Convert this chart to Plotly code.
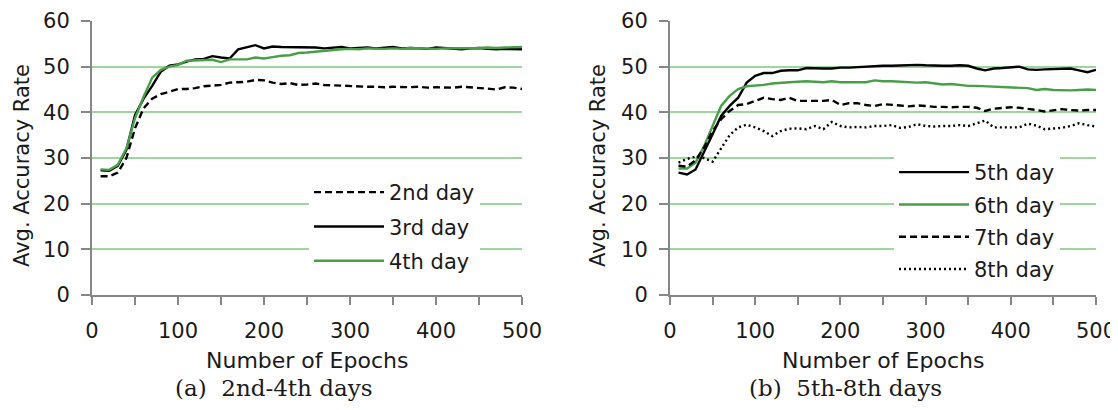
import plotly.graph_objects as go

epochs = [10, 20, 30, 40, 50, 60, 70, 80, 90, 100, 110, 120, 130, 140, 150, 160, 170, 180, 190, 200,
          210, 220, 230, 240, 250, 260, 270, 280, 290, 300, 310, 320, 330, 340, 350, 360, 370, 380, 390, 400,
          410, 420, 430, 440, 450, 460, 470, 480, 490, 500]

day2 = [26.0, 26.0, 26.8, 30.0, 36.5, 40.9, 43.0, 44.0, 44.5, 45.1, 45.1, 45.3, 45.7, 45.9, 46.0, 46.5, 46.6,
        46.7, 47.1, 47.0, 46.5, 46.2, 46.4, 46.0, 46.1,
        46.3, 46.0, 45.9, 45.8, 45.7, 45.7, 45.6, 45.6, 45.5, 45.6, 45.5, 45.5, 45.6, 45.4, 45.5, 45.5, 45.4,
        45.6, 45.5, 45.3, 45.2, 45.0, 45.5, 45.4, 45.1]
day3 = [27.3, 27.2, 28.3, 31.8, 39.4, 43.0, 45.8, 48.9, 50.2, 50.5, 51.1, 51.6, 51.7, 52.3, 52.0, 51.8, 53.8,
        54.2, 54.7, 54.0, 54.4, 54.3, 54.3, 54.2, 54.2,
        54.2, 54.0, 54.1, 54.3, 54.0, 54.1, 54.2, 54.0, 54.1, 54.3, 54.0, 54.1, 54.0, 53.9, 54.2, 54.1, 54.0,
        53.8, 54.0, 54.1, 53.9, 53.8, 53.9, 53.9, 53.8]
day4 = [27.5, 27.4, 28.5, 32.1, 38.7, 43.4, 47.6, 49.3, 50.0, 50.4, 51.3, 51.4, 51.5, 51.5, 51.0, 51.6, 51.6,
        51.6, 52.0, 51.8, 52.1, 52.4, 52.5, 53.0, 53.1,
        53.3, 53.5, 53.7, 53.8, 53.9, 53.8, 54.0, 53.9, 53.9, 54.0, 53.9, 54.1, 54.0, 54.0, 53.9, 54.0, 54.0,
        54.1, 54.0, 54.1, 54.2, 54.1, 54.2, 54.3, 54.3]

day5 = [26.8, 26.4, 27.5, 31.2, 35.2, 39.2, 41.4, 43.2, 46.5, 48.0, 48.6, 48.6, 49.1, 49.2, 49.2, 49.7, 49.6,
        49.6, 49.6, 49.8, 49.8, 49.9, 50.1, 50.1, 50.2,
        50.2, 50.3, 50.4, 50.4, 50.3, 50.2, 50.2, 50.2, 50.3, 50.2, 49.6, 49.2, 49.6, 49.7, 49.8, 50.0, 49.4,
        49.3, 49.4, 49.5, 49.5, 49.6, 49.2, 48.8, 49.3]
day6 = [27.7, 27.7, 29.0, 32.6, 37.0, 41.4, 43.6, 45.1, 45.7, 45.8, 46.0, 46.3, 46.5, 46.6, 46.7, 46.8, 46.7,
        46.6, 46.8, 46.6, 46.6, 46.6, 46.6, 47.0, 46.8,
        46.8, 46.7, 46.6, 46.5, 46.6, 46.4, 46.1, 46.2, 46.0, 45.8, 45.8, 45.7, 45.7, 45.6, 45.5, 45.4, 45.3,
        44.9, 45.1, 44.9, 44.8, 44.8, 44.9, 45.0, 44.9]
day7 = [28.3, 28.1, 29.5, 32.3, 35.9, 38.5, 40.3, 41.6, 41.8, 42.5, 43.2, 42.9, 42.7, 43.2, 42.5, 42.5, 42.5,
        42.5, 42.7, 41.6, 42.0, 42.0, 41.6, 41.4, 41.8,
        41.7, 41.5, 41.3, 41.5, 41.4, 41.2, 41.2, 41.1, 41.2, 41.2, 41.0, 40.3, 40.8, 41.0, 41.1, 41.0, 40.8,
        40.5, 40.2, 40.5, 40.7, 40.5, 40.4, 40.5, 40.5]
day8 = [29.0, 29.8, 30.3, 30.0, 29.2, 32.2, 35.0, 36.7, 37.3, 36.7, 35.9, 34.8, 35.9, 36.4, 36.5, 36.3, 37.0,
        36.3, 37.9, 37.0, 36.7, 36.8, 36.7, 37.0, 37.0,
        37.2, 36.6, 36.8, 37.4, 37.0, 36.9, 37.0, 37.0, 37.2, 37.0, 37.6, 38.2, 36.7, 36.7, 36.6, 36.7, 37.5,
        37.1, 36.3, 36.4, 36.6, 37.0, 37.6, 37.2, 36.9]

x_ticks = [0, 100, 200, 300, 400, 500]
y_ticks = [0, 10, 20, 30, 40, 50, 60]
x_title = "Number of Epochs"
y_title = "Avg. Accuracy Rate"
caption_a = "(a)  2nd-4th days"
caption_b = "(b)  5th-8th days"

BLACK = "#000000"
GREEN = "#4a9e4a"
GRID = "#9fd69f"
AXIS = "#878787"
FONT = "DejaVu Sans"
TXT = "#1a1a1a"
LW = 2.4

W, H, PAGE_OFF = 1118, 410, 8  # page body margin offsets the figure by 8px


def fx(px):
    return (px - PAGE_OFF) / W


def fy(py):
    return (H - (py - PAGE_OFF)) / H


fig = go.Figure()

left_series = [
    ("2nd day", day2, BLACK, "7px,4px"),
    ("3rd day", day3, BLACK, "solid"),
    ("4th day", day4, GREEN, "solid"),
]
right_series = [
    ("5th day", day5, BLACK, "solid"),
    ("6th day", day6, GREEN, "solid"),
    ("7th day", day7, BLACK, "7px,4px"),
    ("8th day", day8, BLACK, "2px,3px"),
]

for i, (name, vals, col, dash) in enumerate(left_series):
    fig.add_trace(go.Scatter(x=epochs, y=vals, name=name, mode="lines",
                             line=dict(color=col, width=LW, dash=dash),
                             xaxis="x", yaxis="y", legend="legend", legendgroup=f"a{i}"))
for i, (name, vals, col, dash) in enumerate(right_series):
    fig.add_trace(go.Scatter(x=epochs, y=vals, name=name, mode="lines",
                             line=dict(color=col, width=LW, dash=dash),
                             xaxis="x2", yaxis="y2", legend="legend2", legendgroup=f"b{i}"))

xax = dict(range=[0, 500], tickvals=x_ticks, showgrid=False, zeroline=False, automargin=False,
           showline=True, linecolor=AXIS, linewidth=2,
           ticks="outside", ticklen=8, tickwidth=2, tickcolor=AXIS,
           minor=dict(dtick=50, tick0=0, ticks="outside", ticklen=8, tickwidth=2, tickcolor=AXIS, showgrid=False),
           tickfont=dict(family=FONT, size=21, color=TXT), ticklabelstandoff=8)
yax = dict(range=[0, 60], tickvals=y_ticks, showgrid=True, gridcolor=GRID, gridwidth=1.5, zeroline=False,
           automargin=False,
           showline=True, linecolor=AXIS, linewidth=2,
           ticks="outside", ticklen=9, tickwidth=2, tickcolor=AXIS,
           tickfont=dict(family=FONT, size=21, color=TXT), ticklabelstandoff=7)


def ann(text, px, py, size, family=FONT, angle=0):
    return dict(text=text, x=fx(px), y=fy(py), xref="paper", yref="paper",
                xanchor="center", yanchor="middle", textangle=angle,
                showarrow=False, font=dict(family=family, size=size, color=TXT))


fig.update_layout(
    width=W, height=H,
    margin=dict(l=0, r=0, t=0, b=0, autoexpand=False),
    paper_bgcolor="white", plot_bgcolor="white",
    showlegend=True,
    xaxis=dict(domain=[fx(92), fx(522)], anchor="y", **xax),
    yaxis=dict(domain=[fy(295), fy(21)], anchor="x", **yax),
    xaxis2=dict(domain=[fx(670), fx(1096)], anchor="y2", **xax),
    yaxis2=dict(domain=[fy(295), fy(21)], anchor="x2", **yax),
    legend=dict(x=fx(309), y=fy(172), xanchor="left", yanchor="top",
                bgcolor="white", borderwidth=0, itemwidth=70, tracegroupgap=4,
                font=dict(family=FONT, size=21, color=TXT)),
    legend2=dict(x=fx(894), y=fy(152), xanchor="left", yanchor="top",
                 bgcolor="white", borderwidth=0, itemwidth=70, tracegroupgap=2,
                 font=dict(family=FONT, size=21, color=TXT)),
    annotations=[
        ann(x_title, 307, 360, 22),
        ann(x_title, 883, 360, 22),
        ann(y_title, 22, 166, 21, angle=-90),
        ann(y_title, 598, 166, 21, angle=-90),
        ann(caption_a, 273, 388, 23, family="DejaVu Serif"),
        ann(caption_b, 845, 388, 23, family="DejaVu Serif"),
    ],
)

fig.write_html("out.html")
